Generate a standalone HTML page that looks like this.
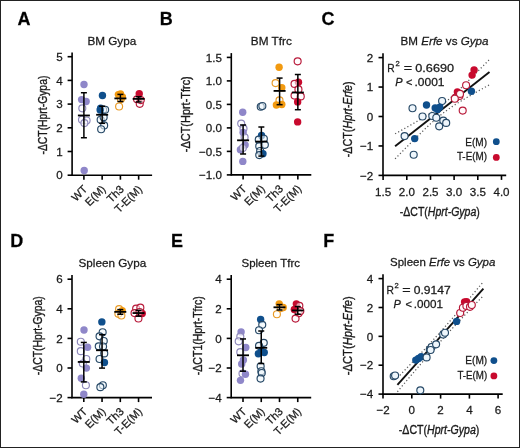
<!DOCTYPE html>
<html><head><meta charset="utf-8"><style>
html,body{margin:0;padding:0;background:#fff;}
svg{display:block;font-family:"Liberation Sans",sans-serif;will-change:transform;}
text{stroke:#1a1a1a;stroke-width:0.26px;}
</style></head><body>
<svg width="520" height="448" viewBox="0 0 520 448">
<rect x="0" y="0" width="520" height="448" fill="#fff"/>
<text x="17.4" y="25.2" font-size="18" text-anchor="start" fill="#000" font-weight="bold" font-style="normal" >A</text>
<text x="159.8" y="25.2" font-size="18" text-anchor="start" fill="#000" font-weight="bold" font-style="normal" >B</text>
<text x="321.4" y="25.4" font-size="18" text-anchor="start" fill="#000" font-weight="bold" font-style="normal" >C</text>
<text x="10.2" y="247.2" font-size="18" text-anchor="start" fill="#000" font-weight="bold" font-style="normal" >D</text>
<text x="171.0" y="247.2" font-size="18" text-anchor="start" fill="#000" font-weight="bold" font-style="normal" >E</text>
<text x="323.2" y="247.2" font-size="18" text-anchor="start" fill="#000" font-weight="bold" font-style="normal" >F</text>
<line x1="72.1" y1="52.400000000000006" x2="72.1" y2="175.79999999999998" stroke="#000" stroke-width="1.6" />
<line x1="71.5" y1="175.2" x2="152.1" y2="175.2" stroke="#000" stroke-width="1.6" />
<line x1="67.6" y1="56.7" x2="72.1" y2="56.7" stroke="#000" stroke-width="1.6" />
<text x="62.699999999999996" y="60.900000000000006" font-size="11.6" text-anchor="end" fill="#1a1a1a" font-weight="normal" font-style="normal" >5</text>
<line x1="67.6" y1="80.4" x2="72.1" y2="80.4" stroke="#000" stroke-width="1.6" />
<text x="62.699999999999996" y="84.60000000000001" font-size="11.6" text-anchor="end" fill="#1a1a1a" font-weight="normal" font-style="normal" >4</text>
<line x1="67.6" y1="104.1" x2="72.1" y2="104.1" stroke="#000" stroke-width="1.6" />
<text x="62.699999999999996" y="108.3" font-size="11.6" text-anchor="end" fill="#1a1a1a" font-weight="normal" font-style="normal" >3</text>
<line x1="67.6" y1="127.8" x2="72.1" y2="127.8" stroke="#000" stroke-width="1.6" />
<text x="62.699999999999996" y="132.0" font-size="11.6" text-anchor="end" fill="#1a1a1a" font-weight="normal" font-style="normal" >2</text>
<line x1="67.6" y1="151.5" x2="72.1" y2="151.5" stroke="#000" stroke-width="1.6" />
<text x="62.699999999999996" y="155.7" font-size="11.6" text-anchor="end" fill="#1a1a1a" font-weight="normal" font-style="normal" >1</text>
<line x1="67.6" y1="175.2" x2="72.1" y2="175.2" stroke="#000" stroke-width="1.6" />
<text x="62.699999999999996" y="179.39999999999998" font-size="11.6" text-anchor="end" fill="#1a1a1a" font-weight="normal" font-style="normal" >0</text>
<line x1="83.89999999999999" y1="175.2" x2="83.89999999999999" y2="179.7" stroke="#000" stroke-width="1.6" />
<line x1="102.14999999999999" y1="175.2" x2="102.14999999999999" y2="179.7" stroke="#000" stroke-width="1.6" />
<line x1="120.39999999999999" y1="175.2" x2="120.39999999999999" y2="179.7" stroke="#000" stroke-width="1.6" />
<line x1="138.64999999999998" y1="175.2" x2="138.64999999999998" y2="179.7" stroke="#000" stroke-width="1.6" />
<text transform="translate(88.1,189.79999999999998) rotate(-45)" font-size="11" text-anchor="end" fill="#1a1a1a">WT</text>
<text transform="translate(106.35,189.79999999999998) rotate(-45)" font-size="11" text-anchor="end" fill="#1a1a1a">E(M)</text>
<text transform="translate(124.6,189.79999999999998) rotate(-45)" font-size="11" text-anchor="end" fill="#1a1a1a">Th3</text>
<text transform="translate(142.84999999999997,189.79999999999998) rotate(-45)" font-size="11" text-anchor="end" fill="#1a1a1a">T-E(M)</text>
<text x="87.4" y="44.6" font-size="11.5" text-anchor="start" fill="#1a1a1a" font-weight="normal" font-style="normal" textLength="48.9" lengthAdjust="spacingAndGlyphs" >BM Gypa</text>
<text transform="translate(47,115.1) rotate(-90)" font-size="12" text-anchor="middle" fill="#1a1a1a" style="stroke-width:0.35px" textLength="78.9" lengthAdjust="spacingAndGlyphs">-ΔCT(Hprt-Gypa)</text>
<circle cx="83.99999999999999" cy="84.429" r="3.7" fill="#8f87c9"/>
<circle cx="81.6" cy="99.59700000000001" r="3.7" fill="#8f87c9"/>
<circle cx="86.1" cy="101.493" r="3.7" fill="#8f87c9"/>
<circle cx="82.3" cy="108.366" r="3.5" fill="#fbfbff" fill-opacity="0.6" stroke="#8e88bb" stroke-width="1.15"/>
<circle cx="81.99999999999999" cy="119.74199999999999" r="3.5" fill="#fbfbff" fill-opacity="0.6" stroke="#8e88bb" stroke-width="1.15"/>
<circle cx="86.6" cy="120.45299999999999" r="3.5" fill="#fbfbff" fill-opacity="0.6" stroke="#8e88bb" stroke-width="1.15"/>
<circle cx="84.19999999999999" cy="170.45999999999998" r="3.7" fill="#8f87c9"/>
<circle cx="84.39999999999999" cy="123.05999999999999" r="3.5" fill="#fbfbff" fill-opacity="0.6" stroke="#8e88bb" stroke-width="1.15"/>
<line x1="83.89999999999999" y1="92.72399999999999" x2="83.89999999999999" y2="137.754" stroke="#000" stroke-width="1.5" />
<line x1="80.89999999999999" y1="92.72399999999999" x2="86.89999999999999" y2="92.72399999999999" stroke="#000" stroke-width="1.5" />
<line x1="80.89999999999999" y1="137.754" x2="86.89999999999999" y2="137.754" stroke="#000" stroke-width="1.5" />
<line x1="77.89999999999999" y1="115.476" x2="89.89999999999999" y2="115.476" stroke="#000" stroke-width="1.8" />
<circle cx="102.44999999999999" cy="95.56800000000001" r="3.7" fill="#0f4f8c"/>
<circle cx="100.64999999999999" cy="108.12899999999999" r="3.7" fill="#0f4f8c"/>
<circle cx="103.14999999999999" cy="109.78800000000001" r="3.5" fill="#eef6fc" fill-opacity="0.6" stroke="#264866" stroke-width="1.15"/>
<circle cx="105.14999999999999" cy="109.78800000000001" r="3.5" fill="#eef6fc" fill-opacity="0.6" stroke="#264866" stroke-width="1.15"/>
<circle cx="100.14999999999999" cy="110.02499999999999" r="3.7" fill="#0f4f8c"/>
<circle cx="100.64999999999999" cy="119.74199999999999" r="3.5" fill="#eef6fc" fill-opacity="0.6" stroke="#264866" stroke-width="1.15"/>
<circle cx="104.14999999999999" cy="125.42999999999999" r="3.5" fill="#eef6fc" fill-opacity="0.6" stroke="#264866" stroke-width="1.15"/>
<circle cx="101.14999999999999" cy="129.22199999999998" r="3.5" fill="#eef6fc" fill-opacity="0.6" stroke="#264866" stroke-width="1.15"/>
<circle cx="103.64999999999999" cy="117.13499999999999" r="3.5" fill="#eef6fc" fill-opacity="0.6" stroke="#264866" stroke-width="1.15"/>
<line x1="102.14999999999999" y1="106.233" x2="102.14999999999999" y2="123.297" stroke="#000" stroke-width="1.5" />
<line x1="99.14999999999999" y1="106.233" x2="105.14999999999999" y2="106.233" stroke="#000" stroke-width="1.5" />
<line x1="99.14999999999999" y1="123.297" x2="105.14999999999999" y2="123.297" stroke="#000" stroke-width="1.5" />
<line x1="96.14999999999999" y1="114.765" x2="108.14999999999999" y2="114.765" stroke="#000" stroke-width="1.8" />
<circle cx="120.49999999999999" cy="93.90899999999999" r="3.7" fill="#f29a10"/>
<circle cx="118.39999999999999" cy="94.62" r="3.7" fill="#f29a10"/>
<circle cx="120.89999999999999" cy="99.12299999999999" r="3.5" fill="#fffdf8" fill-opacity="0.6" stroke="#e99a25" stroke-width="1.15"/>
<circle cx="119.1" cy="106.47" r="3.5" fill="#fffdf8" fill-opacity="0.6" stroke="#e99a25" stroke-width="1.15"/>
<circle cx="122.39999999999999" cy="96.99000000000001" r="3.7" fill="#f29a10"/>
<line x1="120.39999999999999" y1="94.383" x2="120.39999999999999" y2="101.493" stroke="#000" stroke-width="1.5" />
<line x1="117.39999999999999" y1="94.383" x2="123.39999999999999" y2="94.383" stroke="#000" stroke-width="1.5" />
<line x1="117.39999999999999" y1="101.493" x2="123.39999999999999" y2="101.493" stroke="#000" stroke-width="1.5" />
<line x1="114.39999999999999" y1="98.41199999999999" x2="126.39999999999999" y2="98.41199999999999" stroke="#000" stroke-width="1.8" />
<circle cx="139.24999999999997" cy="93.672" r="3.7" fill="#c80a2e"/>
<circle cx="137.04999999999998" cy="99.35999999999999" r="3.5" fill="#fffafb" fill-opacity="0.6" stroke="#b81a3a" stroke-width="1.15"/>
<circle cx="139.74999999999997" cy="103.863" r="3.5" fill="#fffafb" fill-opacity="0.6" stroke="#b81a3a" stroke-width="1.15"/>
<circle cx="140.74999999999997" cy="100.071" r="3.5" fill="#fffafb" fill-opacity="0.6" stroke="#b81a3a" stroke-width="1.15"/>
<line x1="138.64999999999998" y1="96.75299999999999" x2="138.64999999999998" y2="101.967" stroke="#000" stroke-width="1.5" />
<line x1="135.64999999999998" y1="96.75299999999999" x2="141.64999999999998" y2="96.75299999999999" stroke="#000" stroke-width="1.5" />
<line x1="135.64999999999998" y1="101.967" x2="141.64999999999998" y2="101.967" stroke="#000" stroke-width="1.5" />
<line x1="132.64999999999998" y1="98.886" x2="144.64999999999998" y2="98.886" stroke="#000" stroke-width="1.8" />
<line x1="231.3" y1="53.1" x2="231.3" y2="175.5" stroke="#000" stroke-width="1.6" />
<line x1="230.70000000000002" y1="174.9" x2="311.3" y2="174.9" stroke="#000" stroke-width="1.6" />
<line x1="226.8" y1="57.4" x2="231.3" y2="57.4" stroke="#000" stroke-width="1.6" />
<text x="221.9" y="61.6" font-size="11.6" text-anchor="end" fill="#1a1a1a" font-weight="normal" font-style="normal" >1.5</text>
<line x1="226.8" y1="80.9" x2="231.3" y2="80.9" stroke="#000" stroke-width="1.6" />
<text x="221.9" y="85.10000000000001" font-size="11.6" text-anchor="end" fill="#1a1a1a" font-weight="normal" font-style="normal" >1.0</text>
<line x1="226.8" y1="104.4" x2="231.3" y2="104.4" stroke="#000" stroke-width="1.6" />
<text x="221.9" y="108.60000000000001" font-size="11.6" text-anchor="end" fill="#1a1a1a" font-weight="normal" font-style="normal" >0.5</text>
<line x1="226.8" y1="127.9" x2="231.3" y2="127.9" stroke="#000" stroke-width="1.6" />
<text x="221.9" y="132.1" font-size="11.6" text-anchor="end" fill="#1a1a1a" font-weight="normal" font-style="normal" >0.0</text>
<line x1="226.8" y1="151.4" x2="231.3" y2="151.4" stroke="#000" stroke-width="1.6" />
<text x="221.9" y="155.6" font-size="11.6" text-anchor="end" fill="#1a1a1a" font-weight="normal" font-style="normal" >−0.5</text>
<line x1="226.8" y1="174.9" x2="231.3" y2="174.9" stroke="#000" stroke-width="1.6" />
<text x="221.9" y="179.1" font-size="11.6" text-anchor="end" fill="#1a1a1a" font-weight="normal" font-style="normal" >−1.0</text>
<line x1="243.10000000000002" y1="174.9" x2="243.10000000000002" y2="179.4" stroke="#000" stroke-width="1.6" />
<line x1="261.35" y1="174.9" x2="261.35" y2="179.4" stroke="#000" stroke-width="1.6" />
<line x1="279.6" y1="174.9" x2="279.6" y2="179.4" stroke="#000" stroke-width="1.6" />
<line x1="297.85" y1="174.9" x2="297.85" y2="179.4" stroke="#000" stroke-width="1.6" />
<text transform="translate(247.3,189.5) rotate(-45)" font-size="11" text-anchor="end" fill="#1a1a1a">WT</text>
<text transform="translate(265.55,189.5) rotate(-45)" font-size="11" text-anchor="end" fill="#1a1a1a">E(M)</text>
<text transform="translate(283.8,189.5) rotate(-45)" font-size="11" text-anchor="end" fill="#1a1a1a">Th3</text>
<text transform="translate(302.05,189.5) rotate(-45)" font-size="11" text-anchor="end" fill="#1a1a1a">T-E(M)</text>
<text x="250.8" y="44.8" font-size="11.5" text-anchor="start" fill="#1a1a1a" font-weight="normal" font-style="normal" textLength="41.0" lengthAdjust="spacingAndGlyphs" >BM Tfrc</text>
<text transform="translate(190.1,114.2) rotate(-90)" font-size="12" text-anchor="middle" fill="#1a1a1a" style="stroke-width:0.35px" textLength="75.9" lengthAdjust="spacingAndGlyphs">-ΔCT(Hprt-Tfrc)</text>
<circle cx="242.70000000000002" cy="112.202" r="3.7" fill="#8f87c9"/>
<circle cx="241.20000000000002" cy="123.62299999999999" r="3.5" fill="#fbfbff" fill-opacity="0.6" stroke="#8e88bb" stroke-width="1.15"/>
<circle cx="243.50000000000003" cy="128.605" r="3.5" fill="#fbfbff" fill-opacity="0.6" stroke="#8e88bb" stroke-width="1.15"/>
<circle cx="243.10000000000002" cy="132.506" r="3.7" fill="#8f87c9"/>
<circle cx="245.10000000000002" cy="145.00799999999998" r="3.7" fill="#8f87c9"/>
<circle cx="240.40000000000003" cy="149.708" r="3.7" fill="#8f87c9"/>
<circle cx="242.8" cy="148.016" r="3.5" fill="#fbfbff" fill-opacity="0.6" stroke="#8e88bb" stroke-width="1.15"/>
<circle cx="242.8" cy="161.411" r="3.7" fill="#8f87c9"/>
<circle cx="244.60000000000002" cy="137.3" r="3.5" fill="#fbfbff" fill-opacity="0.6" stroke="#8e88bb" stroke-width="1.15"/>
<line x1="243.10000000000002" y1="124.98599999999999" x2="243.10000000000002" y2="153.985" stroke="#000" stroke-width="1.5" />
<line x1="240.10000000000002" y1="124.98599999999999" x2="246.10000000000002" y2="124.98599999999999" stroke="#000" stroke-width="1.5" />
<line x1="240.10000000000002" y1="153.985" x2="246.10000000000002" y2="153.985" stroke="#000" stroke-width="1.5" />
<line x1="237.10000000000002" y1="140.308" x2="249.10000000000002" y2="140.308" stroke="#000" stroke-width="1.8" />
<circle cx="260.75" cy="106.703" r="3.5" fill="#eef6fc" fill-opacity="0.6" stroke="#264866" stroke-width="1.15"/>
<circle cx="262.35" cy="105.99799999999999" r="3.5" fill="#eef6fc" fill-opacity="0.6" stroke="#264866" stroke-width="1.15"/>
<circle cx="261.55" cy="135.514" r="3.7" fill="#0f4f8c"/>
<circle cx="258.75" cy="139.697" r="3.5" fill="#eef6fc" fill-opacity="0.6" stroke="#264866" stroke-width="1.15"/>
<circle cx="263.85" cy="138.71" r="3.5" fill="#eef6fc" fill-opacity="0.6" stroke="#264866" stroke-width="1.15"/>
<circle cx="259.25" cy="146.183" r="3.5" fill="#eef6fc" fill-opacity="0.6" stroke="#264866" stroke-width="1.15"/>
<circle cx="264.85" cy="144.82" r="3.5" fill="#eef6fc" fill-opacity="0.6" stroke="#264866" stroke-width="1.15"/>
<circle cx="260.15000000000003" cy="150.977" r="3.5" fill="#eef6fc" fill-opacity="0.6" stroke="#264866" stroke-width="1.15"/>
<circle cx="262.95000000000005" cy="153.703" r="3.7" fill="#0f4f8c"/>
<circle cx="259.25" cy="155.113" r="3.5" fill="#eef6fc" fill-opacity="0.6" stroke="#264866" stroke-width="1.15"/>
<line x1="261.35" y1="127.007" x2="261.35" y2="156.1" stroke="#000" stroke-width="1.5" />
<line x1="258.35" y1="127.007" x2="264.35" y2="127.007" stroke="#000" stroke-width="1.5" />
<line x1="258.35" y1="156.1" x2="264.35" y2="156.1" stroke="#000" stroke-width="1.5" />
<line x1="255.35000000000002" y1="141.577" x2="267.35" y2="141.577" stroke="#000" stroke-width="1.8" />
<circle cx="279.1" cy="67.27" r="3.7" fill="#f29a10"/>
<circle cx="275.6" cy="83.10900000000001" r="3.5" fill="#fffdf8" fill-opacity="0.6" stroke="#e99a25" stroke-width="1.15"/>
<circle cx="281.8" cy="87.809" r="3.7" fill="#f29a10"/>
<circle cx="279.5" cy="100.311" r="3.5" fill="#fffdf8" fill-opacity="0.6" stroke="#e99a25" stroke-width="1.15"/>
<circle cx="276.40000000000003" cy="105.011" r="3.7" fill="#f29a10"/>
<circle cx="281.8" cy="104.494" r="3.7" fill="#f29a10"/>
<line x1="279.6" y1="78.08" x2="279.6" y2="104.68199999999999" stroke="#000" stroke-width="1.5" />
<line x1="276.6" y1="78.08" x2="282.6" y2="78.08" stroke="#000" stroke-width="1.5" />
<line x1="276.6" y1="104.68199999999999" x2="282.6" y2="104.68199999999999" stroke="#000" stroke-width="1.5" />
<line x1="273.6" y1="90.911" x2="285.6" y2="90.911" stroke="#000" stroke-width="1.8" />
<circle cx="297.65000000000003" cy="61.300999999999995" r="3.5" fill="#fffafb" fill-opacity="0.6" stroke="#b81a3a" stroke-width="1.15"/>
<circle cx="298.45000000000005" cy="82.31" r="3.7" fill="#c80a2e"/>
<circle cx="294.55" cy="83.908" r="3.5" fill="#fffafb" fill-opacity="0.6" stroke="#b81a3a" stroke-width="1.15"/>
<circle cx="298.45000000000005" cy="89.40700000000001" r="3.5" fill="#fffafb" fill-opacity="0.6" stroke="#b81a3a" stroke-width="1.15"/>
<circle cx="294.55" cy="95.61099999999999" r="3.5" fill="#fffafb" fill-opacity="0.6" stroke="#b81a3a" stroke-width="1.15"/>
<circle cx="300.75" cy="96.41" r="3.5" fill="#fffafb" fill-opacity="0.6" stroke="#b81a3a" stroke-width="1.15"/>
<circle cx="297.65000000000003" cy="101.90899999999999" r="3.7" fill="#c80a2e"/>
<circle cx="297.65000000000003" cy="121.88399999999999" r="3.7" fill="#c80a2e"/>
<line x1="297.85" y1="74.50800000000001" x2="297.85" y2="109.711" stroke="#000" stroke-width="1.5" />
<line x1="294.85" y1="74.50800000000001" x2="300.85" y2="74.50800000000001" stroke="#000" stroke-width="1.5" />
<line x1="294.85" y1="109.711" x2="300.85" y2="109.711" stroke="#000" stroke-width="1.5" />
<line x1="291.85" y1="92.50899999999999" x2="303.85" y2="92.50899999999999" stroke="#000" stroke-width="1.8" />
<line x1="72.0" y1="274.9" x2="72.0" y2="398.20000000000005" stroke="#000" stroke-width="1.6" />
<line x1="71.4" y1="397.6" x2="152.0" y2="397.6" stroke="#000" stroke-width="1.6" />
<line x1="67.5" y1="279.2" x2="72.0" y2="279.2" stroke="#000" stroke-width="1.6" />
<text x="62.6" y="283.4" font-size="11.6" text-anchor="end" fill="#1a1a1a" font-weight="normal" font-style="normal" >6</text>
<line x1="67.5" y1="308.8" x2="72.0" y2="308.8" stroke="#000" stroke-width="1.6" />
<text x="62.6" y="313.0" font-size="11.6" text-anchor="end" fill="#1a1a1a" font-weight="normal" font-style="normal" >4</text>
<line x1="67.5" y1="338.4" x2="72.0" y2="338.4" stroke="#000" stroke-width="1.6" />
<text x="62.6" y="342.59999999999997" font-size="11.6" text-anchor="end" fill="#1a1a1a" font-weight="normal" font-style="normal" >2</text>
<line x1="67.5" y1="368.0" x2="72.0" y2="368.0" stroke="#000" stroke-width="1.6" />
<text x="62.6" y="372.2" font-size="11.6" text-anchor="end" fill="#1a1a1a" font-weight="normal" font-style="normal" >0</text>
<line x1="67.5" y1="397.6" x2="72.0" y2="397.6" stroke="#000" stroke-width="1.6" />
<text x="62.6" y="401.8" font-size="11.6" text-anchor="end" fill="#1a1a1a" font-weight="normal" font-style="normal" >−2</text>
<line x1="83.8" y1="397.6" x2="83.8" y2="402.1" stroke="#000" stroke-width="1.6" />
<line x1="102.05" y1="397.6" x2="102.05" y2="402.1" stroke="#000" stroke-width="1.6" />
<line x1="120.3" y1="397.6" x2="120.3" y2="402.1" stroke="#000" stroke-width="1.6" />
<line x1="138.55" y1="397.6" x2="138.55" y2="402.1" stroke="#000" stroke-width="1.6" />
<text transform="translate(88.0,412.20000000000005) rotate(-45)" font-size="11" text-anchor="end" fill="#1a1a1a">WT</text>
<text transform="translate(106.25,412.20000000000005) rotate(-45)" font-size="11" text-anchor="end" fill="#1a1a1a">E(M)</text>
<text transform="translate(124.5,412.20000000000005) rotate(-45)" font-size="11" text-anchor="end" fill="#1a1a1a">Th3</text>
<text transform="translate(142.75,412.20000000000005) rotate(-45)" font-size="11" text-anchor="end" fill="#1a1a1a">T-E(M)</text>
<text x="78.5" y="266.6" font-size="11.5" text-anchor="start" fill="#1a1a1a" font-weight="normal" font-style="normal" textLength="67.7" lengthAdjust="spacingAndGlyphs" >Spleen Gypa</text>
<text transform="translate(42,335.7) rotate(-90)" font-size="12" text-anchor="middle" fill="#1a1a1a" style="stroke-width:0.35px" textLength="78.9" lengthAdjust="spacingAndGlyphs">-ΔCT(Hprt-Gypa)</text>
<circle cx="84.0" cy="330.0" r="3.7" fill="#8f87c9"/>
<circle cx="80.8" cy="341.7" r="3.5" fill="#fbfbff" fill-opacity="0.6" stroke="#8e88bb" stroke-width="1.15"/>
<circle cx="87.6" cy="347.25" r="3.7" fill="#8f87c9"/>
<circle cx="80.8" cy="351.15" r="3.5" fill="#fbfbff" fill-opacity="0.6" stroke="#8e88bb" stroke-width="1.15"/>
<circle cx="86.3" cy="358.95" r="3.5" fill="#fbfbff" fill-opacity="0.6" stroke="#8e88bb" stroke-width="1.15"/>
<circle cx="82.8" cy="363.45" r="3.5" fill="#fbfbff" fill-opacity="0.6" stroke="#8e88bb" stroke-width="1.15"/>
<circle cx="86.39999999999999" cy="368.1" r="3.7" fill="#8f87c9"/>
<circle cx="81.3" cy="378.15" r="3.7" fill="#8f87c9"/>
<circle cx="85.89999999999999" cy="385.2" r="3.5" fill="#fbfbff" fill-opacity="0.6" stroke="#8e88bb" stroke-width="1.15"/>
<circle cx="83.8" cy="394.2" r="3.7" fill="#8f87c9"/>
<line x1="83.8" y1="342.45" x2="83.8" y2="381.9" stroke="#000" stroke-width="1.5" />
<line x1="80.8" y1="342.45" x2="86.8" y2="342.45" stroke="#000" stroke-width="1.5" />
<line x1="80.8" y1="381.9" x2="86.8" y2="381.9" stroke="#000" stroke-width="1.5" />
<line x1="77.8" y1="361.95" x2="89.8" y2="361.95" stroke="#000" stroke-width="1.8" />
<circle cx="101.85" cy="321.9" r="3.7" fill="#0f4f8c"/>
<circle cx="102.64999999999999" cy="332.25" r="3.5" fill="#eef6fc" fill-opacity="0.6" stroke="#264866" stroke-width="1.15"/>
<circle cx="99.55" cy="336.3" r="3.5" fill="#eef6fc" fill-opacity="0.6" stroke="#264866" stroke-width="1.15"/>
<circle cx="103.75" cy="340.95" r="3.5" fill="#eef6fc" fill-opacity="0.6" stroke="#264866" stroke-width="1.15"/>
<circle cx="98.75" cy="346.35" r="3.5" fill="#eef6fc" fill-opacity="0.6" stroke="#264866" stroke-width="1.15"/>
<circle cx="104.25" cy="353.4" r="3.5" fill="#eef6fc" fill-opacity="0.6" stroke="#264866" stroke-width="1.15"/>
<circle cx="99.55" cy="358.95" r="3.5" fill="#eef6fc" fill-opacity="0.6" stroke="#264866" stroke-width="1.15"/>
<circle cx="104.45" cy="362.55" r="3.7" fill="#0f4f8c"/>
<circle cx="102.85" cy="385.2" r="3.5" fill="#eef6fc" fill-opacity="0.6" stroke="#264866" stroke-width="1.15"/>
<circle cx="100.35" cy="387.15" r="3.5" fill="#eef6fc" fill-opacity="0.6" stroke="#264866" stroke-width="1.15"/>
<circle cx="103.05" cy="346.5" r="3.5" fill="#eef6fc" fill-opacity="0.6" stroke="#264866" stroke-width="1.15"/>
<line x1="102.05" y1="334.65" x2="102.05" y2="368.1" stroke="#000" stroke-width="1.5" />
<line x1="99.05" y1="334.65" x2="105.05" y2="334.65" stroke="#000" stroke-width="1.5" />
<line x1="99.05" y1="368.1" x2="105.05" y2="368.1" stroke="#000" stroke-width="1.5" />
<line x1="96.05" y1="350.25" x2="108.05" y2="350.25" stroke="#000" stroke-width="1.8" />
<circle cx="119.1" cy="309.15" r="3.5" fill="#fffdf8" fill-opacity="0.6" stroke="#e99a25" stroke-width="1.15"/>
<circle cx="122.2" cy="310.8" r="3.7" fill="#f29a10"/>
<circle cx="118.39999999999999" cy="313.8" r="3.5" fill="#fffdf8" fill-opacity="0.6" stroke="#e99a25" stroke-width="1.15"/>
<circle cx="121.39999999999999" cy="315.45" r="3.5" fill="#fffdf8" fill-opacity="0.6" stroke="#e99a25" stroke-width="1.15"/>
<line x1="120.3" y1="309.6" x2="120.3" y2="314.25" stroke="#000" stroke-width="1.5" />
<line x1="117.3" y1="309.6" x2="123.3" y2="309.6" stroke="#000" stroke-width="1.5" />
<line x1="117.3" y1="314.25" x2="123.3" y2="314.25" stroke="#000" stroke-width="1.5" />
<line x1="114.3" y1="311.85" x2="126.3" y2="311.85" stroke="#000" stroke-width="1.8" />
<circle cx="136.15" cy="308.55" r="3.5" fill="#fffafb" fill-opacity="0.6" stroke="#b81a3a" stroke-width="1.15"/>
<circle cx="140.35000000000002" cy="307.65" r="3.5" fill="#fffafb" fill-opacity="0.6" stroke="#b81a3a" stroke-width="1.15"/>
<circle cx="134.55" cy="313.05" r="3.5" fill="#fffafb" fill-opacity="0.6" stroke="#b81a3a" stroke-width="1.15"/>
<circle cx="142.25" cy="313.5" r="3.7" fill="#c80a2e"/>
<circle cx="138.45000000000002" cy="318.45" r="3.5" fill="#fffafb" fill-opacity="0.6" stroke="#b81a3a" stroke-width="1.15"/>
<circle cx="139.55" cy="312.0" r="3.5" fill="#fffafb" fill-opacity="0.6" stroke="#b81a3a" stroke-width="1.15"/>
<line x1="138.55" y1="310.35" x2="138.55" y2="316.2" stroke="#000" stroke-width="1.5" />
<line x1="135.55" y1="310.35" x2="141.55" y2="310.35" stroke="#000" stroke-width="1.5" />
<line x1="135.55" y1="316.2" x2="141.55" y2="316.2" stroke="#000" stroke-width="1.5" />
<line x1="132.55" y1="313.05" x2="144.55" y2="313.05" stroke="#000" stroke-width="1.8" />
<line x1="231.2" y1="274.9" x2="231.2" y2="398.20000000000005" stroke="#000" stroke-width="1.6" />
<line x1="230.6" y1="397.6" x2="311.2" y2="397.6" stroke="#000" stroke-width="1.6" />
<line x1="226.7" y1="279.2" x2="231.2" y2="279.2" stroke="#000" stroke-width="1.6" />
<text x="221.79999999999998" y="283.4" font-size="11.6" text-anchor="end" fill="#1a1a1a" font-weight="normal" font-style="normal" >4</text>
<line x1="226.7" y1="308.8" x2="231.2" y2="308.8" stroke="#000" stroke-width="1.6" />
<text x="221.79999999999998" y="313.0" font-size="11.6" text-anchor="end" fill="#1a1a1a" font-weight="normal" font-style="normal" >2</text>
<line x1="226.7" y1="338.4" x2="231.2" y2="338.4" stroke="#000" stroke-width="1.6" />
<text x="221.79999999999998" y="342.59999999999997" font-size="11.6" text-anchor="end" fill="#1a1a1a" font-weight="normal" font-style="normal" >0</text>
<line x1="226.7" y1="368.0" x2="231.2" y2="368.0" stroke="#000" stroke-width="1.6" />
<text x="221.79999999999998" y="372.2" font-size="11.6" text-anchor="end" fill="#1a1a1a" font-weight="normal" font-style="normal" >−2</text>
<line x1="226.7" y1="397.6" x2="231.2" y2="397.6" stroke="#000" stroke-width="1.6" />
<text x="221.79999999999998" y="401.8" font-size="11.6" text-anchor="end" fill="#1a1a1a" font-weight="normal" font-style="normal" >−4</text>
<line x1="243.0" y1="397.6" x2="243.0" y2="402.1" stroke="#000" stroke-width="1.6" />
<line x1="261.25" y1="397.6" x2="261.25" y2="402.1" stroke="#000" stroke-width="1.6" />
<line x1="279.5" y1="397.6" x2="279.5" y2="402.1" stroke="#000" stroke-width="1.6" />
<line x1="297.75" y1="397.6" x2="297.75" y2="402.1" stroke="#000" stroke-width="1.6" />
<text transform="translate(247.2,412.20000000000005) rotate(-45)" font-size="11" text-anchor="end" fill="#1a1a1a">WT</text>
<text transform="translate(265.45,412.20000000000005) rotate(-45)" font-size="11" text-anchor="end" fill="#1a1a1a">E(M)</text>
<text transform="translate(283.7,412.20000000000005) rotate(-45)" font-size="11" text-anchor="end" fill="#1a1a1a">Th3</text>
<text transform="translate(301.95,412.20000000000005) rotate(-45)" font-size="11" text-anchor="end" fill="#1a1a1a">T-E(M)</text>
<text x="241.5" y="266.6" font-size="11.5" text-anchor="start" fill="#1a1a1a" font-weight="normal" font-style="normal" textLength="58.5" lengthAdjust="spacingAndGlyphs" >Spleen Tfrc</text>
<text transform="translate(201.5,335.7) rotate(-90)" font-size="12" text-anchor="middle" fill="#1a1a1a" style="stroke-width:0.35px" textLength="79.0" lengthAdjust="spacingAndGlyphs">-ΔCT1(Hprt-Tfrc)</text>
<circle cx="241.1" cy="331.9" r="3.7" fill="#8f87c9"/>
<circle cx="240.3" cy="336.55" r="3.5" fill="#fbfbff" fill-opacity="0.6" stroke="#8e88bb" stroke-width="1.15"/>
<circle cx="238.7" cy="341.35" r="3.5" fill="#fbfbff" fill-opacity="0.6" stroke="#8e88bb" stroke-width="1.15"/>
<circle cx="245.8" cy="347.5" r="3.7" fill="#8f87c9"/>
<circle cx="240.3" cy="352.15" r="3.5" fill="#fbfbff" fill-opacity="0.6" stroke="#8e88bb" stroke-width="1.15"/>
<circle cx="243.4" cy="359.95" r="3.7" fill="#8f87c9"/>
<circle cx="241.7" cy="364.0" r="3.7" fill="#8f87c9"/>
<circle cx="242.5" cy="373.45" r="3.5" fill="#fbfbff" fill-opacity="0.6" stroke="#8e88bb" stroke-width="1.15"/>
<circle cx="245.5" cy="374.2" r="3.7" fill="#8f87c9"/>
<circle cx="240.5" cy="380.35" r="3.7" fill="#8f87c9"/>
<line x1="243.0" y1="338.95" x2="243.0" y2="371.2" stroke="#000" stroke-width="1.5" />
<line x1="240.0" y1="338.95" x2="246.0" y2="338.95" stroke="#000" stroke-width="1.5" />
<line x1="240.0" y1="371.2" x2="246.0" y2="371.2" stroke="#000" stroke-width="1.5" />
<line x1="237.0" y1="355.3" x2="249.0" y2="355.3" stroke="#000" stroke-width="1.8" />
<circle cx="260.65" cy="319.45" r="3.7" fill="#0f4f8c"/>
<circle cx="262.25" cy="324.85" r="3.5" fill="#eef6fc" fill-opacity="0.6" stroke="#264866" stroke-width="1.15"/>
<circle cx="259.05" cy="330.25" r="3.5" fill="#eef6fc" fill-opacity="0.6" stroke="#264866" stroke-width="1.15"/>
<circle cx="263.75" cy="342.85" r="3.5" fill="#eef6fc" fill-opacity="0.6" stroke="#264866" stroke-width="1.15"/>
<circle cx="259.05" cy="345.85" r="3.5" fill="#eef6fc" fill-opacity="0.6" stroke="#264866" stroke-width="1.15"/>
<circle cx="261.45" cy="351.4" r="3.7" fill="#0f4f8c"/>
<circle cx="258.35" cy="353.8" r="3.7" fill="#0f4f8c"/>
<circle cx="264.25" cy="352.45" r="3.7" fill="#0f4f8c"/>
<circle cx="260.65" cy="366.25" r="3.5" fill="#eef6fc" fill-opacity="0.6" stroke="#264866" stroke-width="1.15"/>
<circle cx="261.35" cy="371.2" r="3.5" fill="#eef6fc" fill-opacity="0.6" stroke="#264866" stroke-width="1.15"/>
<circle cx="261.75" cy="373.0" r="3.5" fill="#eef6fc" fill-opacity="0.6" stroke="#264866" stroke-width="1.15"/>
<circle cx="260.55" cy="378.55" r="3.5" fill="#eef6fc" fill-opacity="0.6" stroke="#264866" stroke-width="1.15"/>
<line x1="261.25" y1="331.0" x2="261.25" y2="363.55" stroke="#000" stroke-width="1.5" />
<line x1="258.25" y1="331.0" x2="264.25" y2="331.0" stroke="#000" stroke-width="1.5" />
<line x1="258.25" y1="363.55" x2="264.25" y2="363.55" stroke="#000" stroke-width="1.5" />
<line x1="255.25" y1="347.8" x2="267.25" y2="347.8" stroke="#000" stroke-width="1.8" />
<circle cx="279.2" cy="303.85" r="3.7" fill="#f29a10"/>
<circle cx="283.2" cy="307.45" r="3.7" fill="#f29a10"/>
<circle cx="276.9" cy="314.2" r="3.5" fill="#fffdf8" fill-opacity="0.6" stroke="#e99a25" stroke-width="1.15"/>
<circle cx="280.7" cy="308.05" r="3.5" fill="#fffdf8" fill-opacity="0.6" stroke="#e99a25" stroke-width="1.15"/>
<line x1="279.5" y1="304.6" x2="279.5" y2="310.0" stroke="#000" stroke-width="1.5" />
<line x1="276.5" y1="304.6" x2="282.5" y2="304.6" stroke="#000" stroke-width="1.5" />
<line x1="276.5" y1="310.0" x2="282.5" y2="310.0" stroke="#000" stroke-width="1.5" />
<line x1="273.5" y1="307.3" x2="285.5" y2="307.3" stroke="#000" stroke-width="1.8" />
<circle cx="296.35" cy="303.85" r="3.7" fill="#c80a2e"/>
<circle cx="299.35" cy="305.8" r="3.5" fill="#fffafb" fill-opacity="0.6" stroke="#b81a3a" stroke-width="1.15"/>
<circle cx="294.35" cy="309.55" r="3.7" fill="#c80a2e"/>
<circle cx="298.65" cy="313.15" r="3.5" fill="#fffafb" fill-opacity="0.6" stroke="#b81a3a" stroke-width="1.15"/>
<circle cx="295.55" cy="318.55" r="3.5" fill="#fffafb" fill-opacity="0.6" stroke="#b81a3a" stroke-width="1.15"/>
<circle cx="300.35" cy="311.05" r="3.5" fill="#fffafb" fill-opacity="0.6" stroke="#b81a3a" stroke-width="1.15"/>
<line x1="297.75" y1="306.55" x2="297.75" y2="314.2" stroke="#000" stroke-width="1.5" />
<line x1="294.75" y1="306.55" x2="300.75" y2="306.55" stroke="#000" stroke-width="1.5" />
<line x1="294.75" y1="314.2" x2="300.75" y2="314.2" stroke="#000" stroke-width="1.5" />
<line x1="291.75" y1="310.45" x2="303.75" y2="310.45" stroke="#000" stroke-width="1.8" />
<line x1="383" y1="53.300000000000004" x2="383" y2="176.0" stroke="#000" stroke-width="1.6" />
<line x1="382.4" y1="175.4" x2="506.2" y2="175.4" stroke="#000" stroke-width="1.6" />
<line x1="378.5" y1="57.6" x2="383" y2="57.6" stroke="#000" stroke-width="1.6" />
<text x="373.3" y="61.800000000000004" font-size="11.6" text-anchor="end" fill="#1a1a1a" font-weight="normal" font-style="normal" >2</text>
<line x1="378.5" y1="87.05" x2="383" y2="87.05" stroke="#000" stroke-width="1.6" />
<text x="373.3" y="91.25" font-size="11.6" text-anchor="end" fill="#1a1a1a" font-weight="normal" font-style="normal" >1</text>
<line x1="378.5" y1="116.5" x2="383" y2="116.5" stroke="#000" stroke-width="1.6" />
<text x="373.3" y="120.7" font-size="11.6" text-anchor="end" fill="#1a1a1a" font-weight="normal" font-style="normal" >0</text>
<line x1="378.5" y1="145.95" x2="383" y2="145.95" stroke="#000" stroke-width="1.6" />
<text x="373.3" y="150.14999999999998" font-size="11.6" text-anchor="end" fill="#1a1a1a" font-weight="normal" font-style="normal" >−1</text>
<line x1="378.5" y1="175.4" x2="383" y2="175.4" stroke="#000" stroke-width="1.6" />
<text x="373.3" y="179.6" font-size="11.6" text-anchor="end" fill="#1a1a1a" font-weight="normal" font-style="normal" >−2</text>
<line x1="383.1" y1="175.4" x2="383.1" y2="179.9" stroke="#000" stroke-width="1.6" />
<text x="383.1" y="195.9" font-size="11.6" text-anchor="middle" fill="#1a1a1a" font-weight="normal" font-style="normal" >1.5</text>
<line x1="406.8" y1="175.4" x2="406.8" y2="179.9" stroke="#000" stroke-width="1.6" />
<text x="406.8" y="195.9" font-size="11.6" text-anchor="middle" fill="#1a1a1a" font-weight="normal" font-style="normal" >2.0</text>
<line x1="430.5" y1="175.4" x2="430.5" y2="179.9" stroke="#000" stroke-width="1.6" />
<text x="430.5" y="195.9" font-size="11.6" text-anchor="middle" fill="#1a1a1a" font-weight="normal" font-style="normal" >2.5</text>
<line x1="454.1" y1="175.4" x2="454.1" y2="179.9" stroke="#000" stroke-width="1.6" />
<text x="454.1" y="195.9" font-size="11.6" text-anchor="middle" fill="#1a1a1a" font-weight="normal" font-style="normal" >3.0</text>
<line x1="477.8" y1="175.4" x2="477.8" y2="179.9" stroke="#000" stroke-width="1.6" />
<text x="477.8" y="195.9" font-size="11.6" text-anchor="middle" fill="#1a1a1a" font-weight="normal" font-style="normal" >3.5</text>
<line x1="501.5" y1="175.4" x2="501.5" y2="179.9" stroke="#000" stroke-width="1.6" />
<text x="501.5" y="195.9" font-size="11.6" text-anchor="middle" fill="#1a1a1a" font-weight="normal" font-style="normal" >4.0</text>
<text x="400.6" y="45" font-size="11.5" fill="#1a1a1a" textLength="87.9" lengthAdjust="spacingAndGlyphs">BM <tspan font-style="italic">Erfe</tspan> vs <tspan font-style="italic">Gypa</tspan></text>
<text transform="translate(351.7,119.3) rotate(-90)" font-size="12" text-anchor="middle" fill="#1a1a1a" style="stroke-width:0.35px" textLength="76.0" lengthAdjust="spacingAndGlyphs">-ΔCT(<tspan font-style="italic">Hprt-Erfe</tspan>)</text>
<text x="399.8" y="216.3" font-size="12" fill="#1a1a1a" style="stroke-width:0.35px" textLength="80" lengthAdjust="spacingAndGlyphs">-ΔCT(<tspan font-style="italic">Hprt-Gypa</tspan>)</text>
<polyline points="395.10,133.78 397.46,132.47 399.82,131.16 402.18,129.84 404.54,128.52 406.90,127.19 409.26,125.85 411.62,124.51 413.98,123.15 416.34,121.79 418.70,120.40 421.06,119.00 423.42,117.58 425.78,116.14 428.14,114.66 430.50,113.14 432.86,111.58 435.22,109.96 437.58,108.28 439.94,106.53 442.30,104.70 444.66,102.80 447.02,100.82 449.38,98.77 451.74,96.67 454.10,94.51 456.46,92.31 458.82,90.07 461.18,87.80 463.54,85.50 465.90,83.19 468.26,80.85 470.62,78.51 472.98,76.15 475.34,73.78 477.70,71.41 480.06,69.02 482.42,66.63 484.78,64.24 487.14,61.84 489.50,59.44" fill="none" stroke="#5a5a5a" stroke-width="1.25" stroke-dasharray="1.2 2.3" stroke-linecap="butt"/>
<polyline points="395.10,158.82 397.46,156.42 399.82,154.02 402.18,151.63 404.54,149.24 406.90,146.86 409.26,144.49 411.62,142.12 413.98,139.77 416.34,137.42 418.70,135.10 421.06,132.79 423.42,130.50 425.78,128.23 428.14,126.00 430.50,123.81 432.86,121.66 435.22,119.57 437.58,117.54 439.94,115.58 442.30,113.70 444.66,111.89 447.02,110.16 449.38,108.50 451.74,106.89 454.10,105.34 456.46,103.83 458.82,102.36 461.18,100.92 463.54,99.51 465.90,98.11 468.26,96.74 470.62,95.37 472.98,94.02 475.34,92.68 477.70,91.34 480.06,90.02 482.42,88.70 484.78,87.38 487.14,86.07 489.50,84.76" fill="none" stroke="#5a5a5a" stroke-width="1.25" stroke-dasharray="1.2 2.3" stroke-linecap="butt"/>
<line x1="395.1" y1="146.3" x2="489.5" y2="72.1" stroke="#111" stroke-width="1.9" />
<circle cx="404.6" cy="136.1" r="3.5" fill="#eef6fc" fill-opacity="1" stroke="#264866" stroke-width="1.15"/>
<circle cx="413.7" cy="154.7" r="3.5" fill="#eef6fc" fill-opacity="1" stroke="#264866" stroke-width="1.15"/>
<circle cx="412.5" cy="108.2" r="3.5" fill="#eef6fc" fill-opacity="1" stroke="#264866" stroke-width="1.15"/>
<circle cx="422.5" cy="116.5" r="3.5" fill="#eef6fc" fill-opacity="1" stroke="#264866" stroke-width="1.15"/>
<circle cx="432.3" cy="116" r="3.5" fill="#eef6fc" fill-opacity="1" stroke="#264866" stroke-width="1.15"/>
<circle cx="436.3" cy="117.7" r="3.5" fill="#eef6fc" fill-opacity="1" stroke="#264866" stroke-width="1.15"/>
<circle cx="443.3" cy="120.6" r="3.5" fill="#eef6fc" fill-opacity="1" stroke="#264866" stroke-width="1.15"/>
<circle cx="446.2" cy="122.9" r="3.5" fill="#eef6fc" fill-opacity="1" stroke="#264866" stroke-width="1.15"/>
<circle cx="439.2" cy="126.3" r="3.5" fill="#eef6fc" fill-opacity="1" stroke="#264866" stroke-width="1.15"/>
<circle cx="442.1" cy="101" r="3.5" fill="#eef6fc" fill-opacity="1" stroke="#264866" stroke-width="1.15"/>
<circle cx="414.7" cy="138.6" r="3.7" fill="#0f4f8c"/>
<circle cx="426.5" cy="105" r="3.7" fill="#0f4f8c"/>
<circle cx="435.2" cy="107.9" r="3.7" fill="#0f4f8c"/>
<circle cx="439.8" cy="107.1" r="3.7" fill="#0f4f8c"/>
<circle cx="437.5" cy="109.5" r="3.7" fill="#0f4f8c"/>
<circle cx="471.4" cy="91.2" r="3.7" fill="#0f4f8c"/>
<circle cx="457.4" cy="91.9" r="3.7" fill="#c80a2e"/>
<circle cx="462.7" cy="110.6" r="3.5" fill="#fffafb" fill-opacity="1" stroke="#b81a3a" stroke-width="1.15"/>
<circle cx="455.4" cy="97.9" r="3.5" fill="#fffafb" fill-opacity="1" stroke="#b81a3a" stroke-width="1.15"/>
<circle cx="459.4" cy="95.9" r="3.5" fill="#fffafb" fill-opacity="1" stroke="#b81a3a" stroke-width="1.15"/>
<circle cx="460" cy="93.9" r="3.5" fill="#fffafb" fill-opacity="1" stroke="#b81a3a" stroke-width="1.15"/>
<circle cx="466.1" cy="85.2" r="3.5" fill="#fffafb" fill-opacity="1" stroke="#b81a3a" stroke-width="1.15"/>
<circle cx="454.8" cy="98.7" r="3.5" fill="#fffafb" fill-opacity="1" stroke="#b81a3a" stroke-width="1.15"/>
<circle cx="474.1" cy="70" r="3.7" fill="#c80a2e"/>
<circle cx="472.1" cy="75.1" r="3.7" fill="#c80a2e"/>
<text x="387.3" y="71.5" font-size="11" fill="#1a1a1a" textLength="7.4" lengthAdjust="spacingAndGlyphs">R</text>
<text x="395.5" y="66.1" font-size="7.6" fill="#1a1a1a">2</text>
<text x="403.8" y="71.5" font-size="11" fill="#1a1a1a" textLength="8.4" lengthAdjust="spacingAndGlyphs">=</text>
<text x="415.3" y="71.5" font-size="11" fill="#1a1a1a" textLength="38.80000000000001" lengthAdjust="spacingAndGlyphs">0.6690</text>
<text x="395.3" y="85.7" font-size="11" fill="#1a1a1a" font-style="italic">P</text>
<text x="405.9" y="85.7" font-size="11" fill="#1a1a1a">&lt;</text>
<text x="414.5" y="85.7" font-size="11" fill="#1a1a1a" textLength="30.0" lengthAdjust="spacingAndGlyphs">.0001</text>
<text x="465.3" y="145.8" font-size="10" fill="#1a1a1a" textLength="21.69999999999999" lengthAdjust="spacingAndGlyphs">E(M)</text>
<circle cx="496.3" cy="141.7" r="3.4" fill="#0f4f8c"/>
<text x="456.9" y="160.4" font-size="10" fill="#1a1a1a" textLength="30.100000000000023" lengthAdjust="spacingAndGlyphs">T-E(M)</text>
<circle cx="496.3" cy="157.4" r="3.4" fill="#c80a2e"/>
<line x1="383" y1="274.3" x2="383" y2="394.70000000000005" stroke="#000" stroke-width="1.6" />
<line x1="382.4" y1="394.1" x2="502.7" y2="394.1" stroke="#000" stroke-width="1.6" />
<line x1="378.5" y1="278.6" x2="383" y2="278.6" stroke="#000" stroke-width="1.6" />
<text x="373.3" y="282.8" font-size="11.6" text-anchor="end" fill="#1a1a1a" font-weight="normal" font-style="normal" >4</text>
<line x1="378.5" y1="307.5" x2="383" y2="307.5" stroke="#000" stroke-width="1.6" />
<text x="373.3" y="311.7" font-size="11.6" text-anchor="end" fill="#1a1a1a" font-weight="normal" font-style="normal" >2</text>
<line x1="378.5" y1="336.35" x2="383" y2="336.35" stroke="#000" stroke-width="1.6" />
<text x="373.3" y="340.55" font-size="11.6" text-anchor="end" fill="#1a1a1a" font-weight="normal" font-style="normal" >0</text>
<line x1="378.5" y1="365.2" x2="383" y2="365.2" stroke="#000" stroke-width="1.6" />
<text x="373.3" y="369.4" font-size="11.6" text-anchor="end" fill="#1a1a1a" font-weight="normal" font-style="normal" >−2</text>
<line x1="378.5" y1="394.1" x2="383" y2="394.1" stroke="#000" stroke-width="1.6" />
<text x="373.3" y="398.3" font-size="11.6" text-anchor="end" fill="#1a1a1a" font-weight="normal" font-style="normal" >−4</text>
<line x1="383" y1="394.1" x2="383" y2="398.6" stroke="#000" stroke-width="1.6" />
<text x="383" y="414.1" font-size="11.6" text-anchor="middle" fill="#1a1a1a" font-weight="normal" font-style="normal" >−2</text>
<line x1="411.8" y1="394.1" x2="411.8" y2="398.6" stroke="#000" stroke-width="1.6" />
<text x="411.8" y="414.1" font-size="11.6" text-anchor="middle" fill="#1a1a1a" font-weight="normal" font-style="normal" >0</text>
<line x1="440.6" y1="394.1" x2="440.6" y2="398.6" stroke="#000" stroke-width="1.6" />
<text x="440.6" y="414.1" font-size="11.6" text-anchor="middle" fill="#1a1a1a" font-weight="normal" font-style="normal" >2</text>
<line x1="469.4" y1="394.1" x2="469.4" y2="398.6" stroke="#000" stroke-width="1.6" />
<text x="469.4" y="414.1" font-size="11.6" text-anchor="middle" fill="#1a1a1a" font-weight="normal" font-style="normal" >4</text>
<line x1="498.1" y1="394.1" x2="498.1" y2="398.6" stroke="#000" stroke-width="1.6" />
<text x="498.1" y="414.1" font-size="11.6" text-anchor="middle" fill="#1a1a1a" font-weight="normal" font-style="normal" >6</text>
<text x="390.1" y="266.3" font-size="11.5" fill="#1a1a1a" textLength="105.2" lengthAdjust="spacingAndGlyphs">Spleen <tspan font-style="italic">Erfe</tspan> vs <tspan font-style="italic">Gypa</tspan></text>
<text transform="translate(351.7,335.7) rotate(-90)" font-size="12" text-anchor="middle" fill="#1a1a1a" style="stroke-width:0.35px" textLength="79.0" lengthAdjust="spacingAndGlyphs">-ΔCT(<tspan font-style="italic">Hprt-Erfe</tspan>)</text>
<text x="398.8" y="434.1" font-size="12" fill="#1a1a1a" style="stroke-width:0.35px" textLength="80.6" lengthAdjust="spacingAndGlyphs">-ΔCT(<tspan font-style="italic">Hprt-Gypa</tspan>)</text>
<polyline points="397.40,377.83 399.55,375.61 401.70,373.38 403.85,371.15 406.00,368.92 408.15,366.68 410.30,364.43 412.45,362.17 414.60,359.91 416.75,357.64 418.90,355.36 421.05,353.07 423.20,350.77 425.35,348.46 427.50,346.14 429.65,343.81 431.80,341.46 433.95,339.10 436.10,336.73 438.25,334.35 440.40,331.95 442.55,329.54 444.70,327.11 446.85,324.67 449.00,322.22 451.15,319.76 453.30,317.28 455.45,314.79 457.60,312.29 459.75,309.79 461.90,307.27 464.05,304.74 466.20,302.20 468.35,299.65 470.50,297.10 472.65,294.54 474.80,291.98 476.95,289.40 479.10,286.83 481.25,284.24 483.40,281.66" fill="none" stroke="#5a5a5a" stroke-width="1.25" stroke-dasharray="1.2 2.3" stroke-linecap="butt"/>
<polyline points="397.40,391.77 399.55,389.19 401.70,386.61 403.85,384.03 406.00,381.46 408.15,378.90 410.30,376.34 412.45,373.79 414.60,371.25 416.75,368.71 418.90,366.19 421.05,363.67 423.20,361.17 425.35,358.67 427.50,356.19 429.65,353.72 431.80,351.26 433.95,348.81 436.10,346.38 438.25,343.96 440.40,341.55 442.55,339.16 444.70,336.78 446.85,334.41 449.00,332.06 451.15,329.72 453.30,327.39 455.45,325.07 457.60,322.77 459.75,320.47 461.90,318.18 464.05,315.91 466.20,313.64 468.35,311.38 470.50,309.13 472.65,306.88 474.80,304.64 476.95,302.41 479.10,300.18 481.25,297.96 483.40,295.74" fill="none" stroke="#5a5a5a" stroke-width="1.25" stroke-dasharray="1.2 2.3" stroke-linecap="butt"/>
<line x1="397.4" y1="384.8" x2="483.4" y2="288.7" stroke="#111" stroke-width="1.9" />
<circle cx="393.7" cy="376.2" r="3.5" fill="#eef6fc" fill-opacity="1" stroke="#264866" stroke-width="1.15"/>
<circle cx="395.1" cy="375.5" r="3.5" fill="#eef6fc" fill-opacity="1" stroke="#264866" stroke-width="1.15"/>
<circle cx="420.3" cy="390.3" r="3.5" fill="#eef6fc" fill-opacity="1" stroke="#264866" stroke-width="1.15"/>
<circle cx="415.8" cy="360.1" r="3.7" fill="#0f4f8c"/>
<circle cx="418.5" cy="358.5" r="3.7" fill="#0f4f8c"/>
<circle cx="421.2" cy="356.8" r="3.7" fill="#0f4f8c"/>
<circle cx="426.6" cy="357.4" r="3.5" fill="#eef6fc" fill-opacity="1" stroke="#264866" stroke-width="1.15"/>
<circle cx="429.8" cy="349.6" r="3.5" fill="#eef6fc" fill-opacity="1" stroke="#264866" stroke-width="1.15"/>
<circle cx="431.6" cy="347" r="3.5" fill="#eef6fc" fill-opacity="1" stroke="#264866" stroke-width="1.15"/>
<circle cx="430.6" cy="350" r="3.5" fill="#eef6fc" fill-opacity="1" stroke="#264866" stroke-width="1.15"/>
<circle cx="436.1" cy="344.3" r="3.5" fill="#eef6fc" fill-opacity="1" stroke="#264866" stroke-width="1.15"/>
<circle cx="443.2" cy="334.5" r="3.5" fill="#eef6fc" fill-opacity="1" stroke="#264866" stroke-width="1.15"/>
<circle cx="445" cy="332.7" r="3.5" fill="#eef6fc" fill-opacity="1" stroke="#264866" stroke-width="1.15"/>
<circle cx="456.6" cy="321.4" r="3.7" fill="#0f4f8c"/>
<circle cx="464.6" cy="302.0" r="3.7" fill="#c80a2e"/>
<circle cx="466.6" cy="301.8" r="3.7" fill="#c80a2e"/>
<circle cx="460.2" cy="313" r="3.5" fill="#fffafb" fill-opacity="1" stroke="#b81a3a" stroke-width="1.15"/>
<circle cx="462.9" cy="307.7" r="3.5" fill="#fffafb" fill-opacity="1" stroke="#b81a3a" stroke-width="1.15"/>
<circle cx="466.4" cy="305.9" r="3.5" fill="#fffafb" fill-opacity="1" stroke="#b81a3a" stroke-width="1.15"/>
<circle cx="470" cy="306.8" r="3.5" fill="#fffafb" fill-opacity="1" stroke="#b81a3a" stroke-width="1.15"/>
<circle cx="471.8" cy="305" r="3.5" fill="#fffafb" fill-opacity="1" stroke="#b81a3a" stroke-width="1.15"/>
<text x="386.4" y="293.8" font-size="11" fill="#1a1a1a" textLength="7.4" lengthAdjust="spacingAndGlyphs">R</text>
<text x="394.59999999999997" y="288.40000000000003" font-size="7.6" fill="#1a1a1a">2</text>
<text x="402.2" y="293.8" font-size="11" fill="#1a1a1a" textLength="8.4" lengthAdjust="spacingAndGlyphs">=</text>
<text x="413.8" y="293.8" font-size="11" fill="#1a1a1a" textLength="36.89999999999998" lengthAdjust="spacingAndGlyphs">0.9147</text>
<text x="393.5" y="307.7" font-size="11" fill="#1a1a1a" font-style="italic">P</text>
<text x="405.6" y="307.7" font-size="11" fill="#1a1a1a">&lt;</text>
<text x="413.8" y="307.7" font-size="11" fill="#1a1a1a" textLength="29.19999999999999" lengthAdjust="spacingAndGlyphs">.0001</text>
<text x="465.3" y="364.3" font-size="10" fill="#1a1a1a" textLength="21.899999999999977" lengthAdjust="spacingAndGlyphs">E(M)</text>
<circle cx="493.9" cy="360.6" r="3.4" fill="#0f4f8c"/>
<text x="457.4" y="378.8" font-size="10" fill="#1a1a1a" textLength="29.80000000000001" lengthAdjust="spacingAndGlyphs">T-E(M)</text>
<circle cx="493.9" cy="375.9" r="3.4" fill="#c80a2e"/>
<rect x="0.5" y="0.5" width="519" height="447" fill="none" stroke="#222" stroke-width="1"/>
</svg>
</body></html>
